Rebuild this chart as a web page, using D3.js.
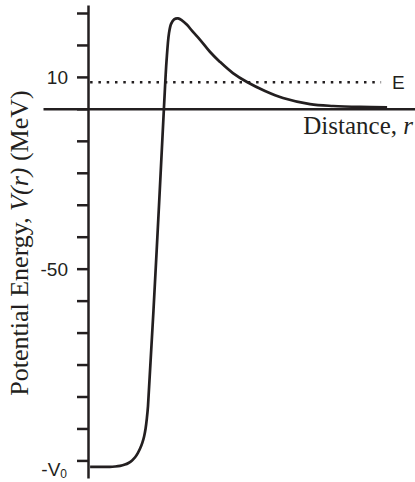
<!DOCTYPE html>
<html>
  <head>
    <meta charset="utf-8">
    <title>Potential energy</title>
    <script type="text/javascript" src="https://cdn.jsdelivr.net/npm/d3@7/dist/d3.min.js"></script>
    <style type="text/css">
      body { margin: 0; background: #fff; }
      svg { display: block; }
    </style>
  </head>
  <body>
    <script>
      // values
      var distance = [0.07, 0.73, 0.90, 1.07, 1.23, 1.35, 1.47, 1.57, 1.66, 1.74, 1.81, 1.87, 1.92, 1.96, 2.00,
                      2.29, 2.53, 2.62, 2.70, 2.77, 2.87, 3.00, 3.13, 3.30, 3.47, 3.73, 4.07, 4.40, 4.83,
                      5.30, 5.90, 6.50, 7.40, 8.17, 9.07, 9.97];
      var potential = [-112, -112, -111.9, -111.7, -111.3, -110.8, -110.0, -109.0, -107.7, -106.2, -104.5, -102.5, -100.0, -97.0, -93.0,
                       -44.1, 0, 15.3, 23.7, 26.6, 28.0, 28.3, 27.7, 26.3, 24.4, 21.7, 17.8, 14.7, 11.2,
                       8.4, 5.6, 3.4, 1.5, 0.9, 0.6, 0.5];
      var tickValues = [30, 20, 10, 0, -10, -20, -30, -40, -50, -60, -70, -80, -90, -100, -110];
      var tickLabels = {"10": "10", "-50": "-50"};
      var energyE = 8.3;
      var wellDepth = -112;
      var energyRange = [0.07, 9.77];

      var w = 415, h = 482;
      var ink = "#231f20";

      var svg = d3.select("body").append("svg")
                  .attr("width", w)
                  .attr("height", h);

      var x = d3.scaleLinear().domain([-1.5, 10.9]).range([43, 415]);
      var y = d3.scaleLinear().domain([-115.5, 32.5]).range([478, 5]);

      // vertical axis with ticks on the left
      var yAxis = svg.append("g")
          .attr("transform", "translate(" + x(0) + ",0)")
          .call(d3.axisLeft(y)
                  .tickValues(tickValues)
                  .tickSize(11)
                  .tickSizeOuter(0)
                  .tickPadding(9)
                  .tickFormat(function(d) { return tickLabels[d] || ""; }));
      yAxis.select(".domain").attr("stroke", ink).attr("stroke-width", 2.5);
      yAxis.selectAll(".tick line").attr("stroke", ink).attr("stroke-width", 2.5);
      yAxis.selectAll(".tick text")
          .attr("fill", ink)
          .attr("dy", "0.36em")
          .style("font-family", "'Liberation Sans', Arial, sans-serif")
          .style("font-size", "19px");

      // horizontal axis, no ticks
      var xAxis = svg.append("g")
          .attr("transform", "translate(0," + y(0) + ")")
          .call(d3.axisBottom(x).tickValues([]).tickSizeOuter(0));
      xAxis.select(".domain").attr("stroke", ink).attr("stroke-width", 2.5);

      // -V0 label at the well bottom
      var v0 = svg.append("text")
          .attr("x", 67)
          .attr("y", y(wellDepth) + 9)
          .attr("text-anchor", "end")
          .attr("fill", ink)
          .style("font-family", "'Liberation Sans', Arial, sans-serif")
          .style("font-size", "19px");
      v0.append("tspan").text("-V");
      v0.append("tspan").attr("dy", 2).style("font-size", "12px").text("0");

      // energy level E
      svg.append("line")
          .attr("x1", x(energyRange[0]))
          .attr("x2", x(energyRange[1]))
          .attr("y1", y(energyE))
          .attr("y2", y(energyE))
          .attr("stroke", ink)
          .attr("stroke-width", 2.5)
          .attr("stroke-dasharray", "2.5,5.8");

      svg.append("text")
          .attr("x", x(energyRange[1]) + 11)
          .attr("y", y(energyE))
          .attr("dy", "0.36em")
          .attr("fill", ink)
          .style("font-family", "'Liberation Sans', Arial, sans-serif")
          .style("font-size", "19px")
          .text("E");

      // potential curve
      var points = distance.map(function(d, i) { return [d, potential[i]]; });
      var line = d3.line()
          .x(function(d) { return x(d[0]); })
          .y(function(d) { return y(d[1]); })
          .curve(d3.curveCatmullRom.alpha(0.5));

      svg.append("path")
          .datum(points)
          .attr("d", line)
          .attr("fill", "none")
          .attr("stroke", ink)
          .attr("stroke-width", 2.7);

      // axis titles
      var xt = svg.append("text")
          .attr("x", 413)
          .attr("y", 134)
          .attr("text-anchor", "end")
          .attr("fill", ink)
          .style("font-family", "'Liberation Serif', 'Times New Roman', serif")
          .style("font-size", "25px");
      xt.append("tspan").text("Distance, ");
      xt.append("tspan").style("font-style", "italic").text("r");

      var yt = svg.append("text")
          .attr("transform", "translate(28,243) rotate(-90)")
          .attr("text-anchor", "middle")
          .attr("fill", ink)
          .style("font-family", "'Liberation Serif', 'Times New Roman', serif")
          .style("font-size", "26px");
      yt.append("tspan").text("Potential Energy, ");
      yt.append("tspan").style("font-style", "italic").text("V(r)");
      yt.append("tspan").text(" (MeV)");
    </script>
  </body>
</html>
